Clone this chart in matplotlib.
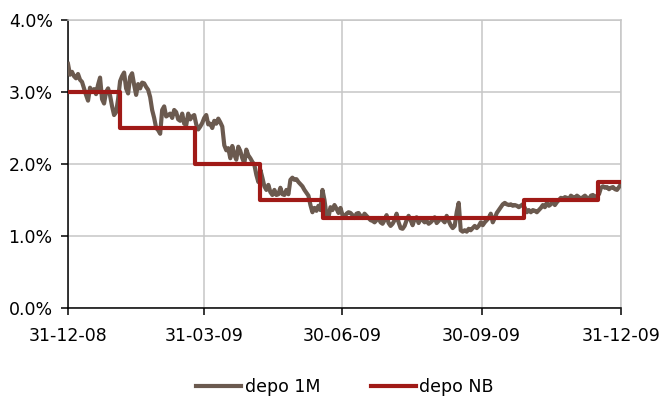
import numpy as np
import pandas as pd
import matplotlib
matplotlib.use("Agg")
import matplotlib.pyplot as plt
import matplotlib.dates as mdates
from matplotlib.ticker import FuncFormatter

# 1-month deposit rate (%), daily observations over 2009
depo_1m = [
    3.39, 3.24, 3.28, 3.22, 3.19, 3.25, 3.17, 3.14, 3.05, 2.96,
    2.88, 3.06, 3.00, 3.04, 2.97, 3.10, 3.20, 2.90, 2.84, 3.00,
    3.05, 2.95, 2.80, 2.68, 2.72, 2.90, 3.15, 3.22, 3.27, 3.05,
    2.98, 3.21, 3.26, 3.10, 2.96, 3.11, 3.05, 3.13, 3.12, 3.07,
    3.03, 2.93, 2.75, 2.64, 2.50, 2.47, 2.42, 2.75, 2.80, 2.66,
    2.68, 2.70, 2.64, 2.75, 2.72, 2.62, 2.60, 2.70, 2.56, 2.54,
    2.70, 2.62, 2.66, 2.68, 2.55, 2.48, 2.52, 2.57, 2.64, 2.68,
    2.55, 2.56, 2.50, 2.60, 2.56, 2.63, 2.58, 2.52, 2.26, 2.19,
    2.22, 2.08, 2.25, 2.13, 2.06, 2.24, 2.18, 2.08, 2.01, 2.20,
    2.12, 2.08, 2.03, 1.99, 1.85, 1.75, 1.92, 1.81, 1.69, 1.64,
    1.71, 1.61, 1.57, 1.64, 1.57, 1.58, 1.67, 1.58, 1.57, 1.64,
    1.58, 1.78, 1.81, 1.78, 1.79, 1.75, 1.72, 1.69, 1.64, 1.60,
    1.56, 1.43, 1.33, 1.39, 1.35, 1.42, 1.36, 1.64, 1.50, 1.29,
    1.26, 1.40, 1.36, 1.43, 1.38, 1.32, 1.39, 1.29, 1.26, 1.31,
    1.33, 1.32, 1.29, 1.25, 1.31, 1.32, 1.28, 1.25, 1.31, 1.28,
    1.25, 1.22, 1.21, 1.19, 1.22, 1.25, 1.19, 1.17, 1.22, 1.29,
    1.18, 1.14, 1.17, 1.22, 1.31, 1.19, 1.11, 1.10, 1.14, 1.22,
    1.28, 1.22, 1.15, 1.24, 1.26, 1.18, 1.25, 1.22, 1.19, 1.21,
    1.17, 1.19, 1.22, 1.26, 1.18, 1.21, 1.25, 1.22, 1.19, 1.28,
    1.21, 1.15, 1.11, 1.14, 1.33, 1.46, 1.08, 1.06, 1.08, 1.06,
    1.10, 1.08, 1.11, 1.14, 1.11, 1.14, 1.19, 1.15, 1.19, 1.22,
    1.25, 1.31, 1.19, 1.25, 1.32, 1.36, 1.40, 1.44, 1.46, 1.44,
    1.43, 1.44, 1.42, 1.43, 1.42, 1.40, 1.42, 1.44, 1.39, 1.33,
    1.36, 1.33, 1.36, 1.35, 1.33, 1.36, 1.39, 1.43, 1.40, 1.46,
    1.42, 1.44, 1.50, 1.43, 1.47, 1.50, 1.53, 1.51, 1.54, 1.53,
    1.51, 1.56, 1.54, 1.53, 1.56, 1.54, 1.51, 1.54, 1.56, 1.53,
    1.51, 1.56, 1.57, 1.54, 1.56, 1.58, 1.67, 1.69, 1.67, 1.68,
    1.65, 1.67, 1.68, 1.65, 1.64, 1.68, 1.72,
]
depo_1m_dates = pd.date_range("2008-12-31", "2009-12-31", periods=len(depo_1m))

# Central bank deposit rate (%) and the dates it changed
nb_dates = pd.to_datetime([
    "2008-12-31", "2009-02-03", "2009-03-25", "2009-05-07",
    "2009-06-17", "2009-10-28", "2009-12-16", "2009-12-31",
])
nb_rates = [3.00, 2.50, 2.00, 1.50, 1.25, 1.50, 1.75, 1.75]

x_ticks = pd.to_datetime(["2008-12-31", "2009-03-31", "2009-06-30",
                          "2009-09-30", "2009-12-31"])
y_ticks = [0.0, 1.0, 2.0, 3.0, 4.0]

plt.rcParams["font.family"] = ["DejaVu Sans"]

fig = plt.figure(figsize=(6.63, 3.96), dpi=100)
ax = fig.add_axes([68 / 663, 1 - 308 / 396, (621 - 68) / 663, (308 - 20) / 396])

ax.plot(depo_1m_dates, depo_1m, color="#6b5a4f", lw=3.0, label="depo 1M",
        solid_joinstyle="round", zorder=3)
ax.plot(nb_dates, nb_rates, color="#a01a17", lw=3.0, label="depo NB",
        drawstyle="steps-post", zorder=4)

ax.set_xlim(x_ticks[0], x_ticks[-1])
ax.set_ylim(0, 4)
ax.set_xticks(x_ticks)
ax.xaxis.set_major_formatter(mdates.DateFormatter("%d-%m-%y"))
ax.set_yticks(y_ticks)
ax.yaxis.set_major_formatter(FuncFormatter(lambda v, _: f"{v:.1f}%"))

ax.grid(True, color="#c6c6c6", lw=1.1)
ax.set_axisbelow(True)
for side in ("top", "right"):
    ax.spines[side].set_color("#c6c6c6")
    ax.spines[side].set_linewidth(1.1)
for side in ("left", "bottom"):
    ax.spines[side].set_color("black")
    ax.spines[side].set_linewidth(1.1)

ax.tick_params(axis="both", direction="out", length=5, width=1.1,
               labelsize=12.5, color="black", pad=6)
ax.tick_params(axis="x", pad=9)

fig.legend(loc="center", bbox_to_anchor=(345 / 663, 1 - 387 / 396), ncol=2,
           frameon=False, fontsize=12.5, handlelength=2.6,
           columnspacing=2.9, handletextpad=0.2)

fig.savefig("out.png", dpi=100)
